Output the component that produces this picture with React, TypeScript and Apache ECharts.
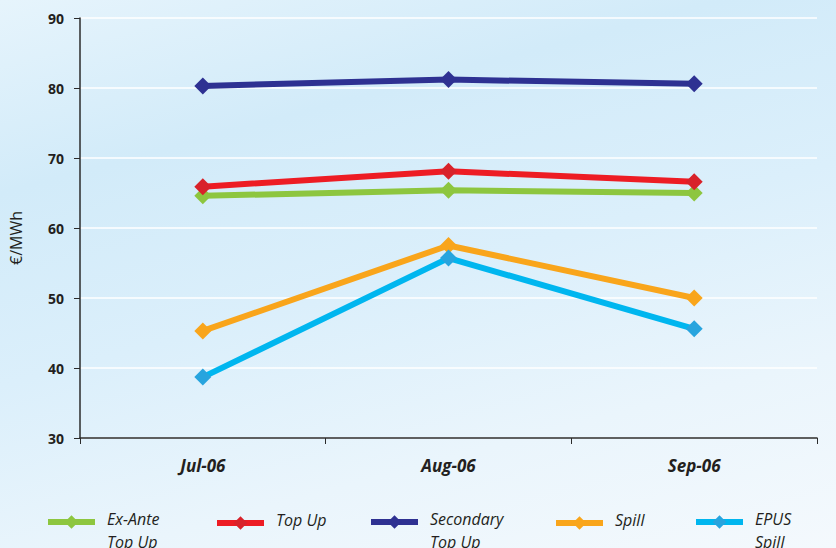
import React, { useEffect, useRef } from "react";
import * as echarts from "echarts";

// Monthly average prices, €/MWh
const months = ["Jul-06", "Aug-06", "Sep-06"];
const exAnteTopUp = [64.6, 65.4, 65.0];
const topUp = [65.9, 68.1, 66.6];
const secondaryTopUp = [80.3, 81.2, 80.6];
const spill = [45.3, 57.5, 50.0];
const epusSpill = [38.7, 55.7, 45.6];

const yTicks = [30, 40, 50, 60, 70, 80, 90];

const seriesDefs = [
  { name: "Ex-Ante Top Up", lines: ["Ex-Ante", "Top Up"], data: exAnteTopUp, color: "#8dc63f", marker: "#8dc63f", left: 45 },
  { name: "Top Up", lines: ["Top Up"], data: topUp, color: "#ed1c24", marker: "#d8222a", left: 214 },
  { name: "Secondary Top Up", lines: ["Secondary", "Top Up"], data: secondaryTopUp, color: "#2e3192", marker: "#2e3192", left: 368 },
  { name: "Spill", lines: ["Spill"], data: spill, color: "#f9a51b", marker: "#f9a51b", left: 553 },
  { name: "EPUS Spill", lines: ["EPUS", "Spill"], data: epusSpill, color: "#00b6ef", marker: "#27a4de", left: 693 },
];

const FONT = "'Open Sans', 'Noto Sans', sans-serif";
const INK = "#231f20";

export default function App() {
  const ref = useRef<HTMLDivElement>(null);

  useEffect(() => {
    if (!ref.current) return;
    const chart = echarts.init(ref.current, null, { renderer: "svg" });

    const textRich = {
      t: { fontFamily: FONT, fontStyle: "italic", fontSize: 16, color: INK, lineHeight: 23 },
      e: { fontSize: 10, lineHeight: 17 },
      f: { fontSize: 4, lineHeight: 6 },
    };

    // the first label line sits level with the legend's line-and-diamond icon
    const legends = seriesDefs.map((s) => {
      const twoLine = s.lines.length > 1;
      const text = twoLine
        ? `{e| }\n{t|${s.lines[0]}}\n{t|${s.lines[1]}}`
        : `{t|${s.lines[0]}}\n{f| }`;
      return {
        data: [s.name],
        left: s.left,
        top: twoLine ? 494 : 512,
        padding: 0,
        itemWidth: 47,
        itemHeight: 17,
        formatter: () => text,
        lineStyle: { width: 6 },
        textStyle: {
          fontFamily: FONT,
          fontStyle: "italic",
          fontSize: 16,
          color: INK,
          padding: [0, 0, 0, 7],
          rich: textRich,
        },
      };
    });

    chart.setOption({
      animation: false,
      backgroundColor: "transparent",
      grid: { left: 78, right: 19, top: 18, bottom: 110 },
      xAxis: {
        type: "category",
        data: months,
        boundaryGap: true,
        axisLine: { lineStyle: { color: "#2b2b2b", width: 1.5 } },
        axisTick: { show: true, length: 6, lineStyle: { color: "#2b2b2b" } },
        axisLabel: {
          margin: 19,
          fontFamily: FONT,
          fontWeight: "bold",
          fontStyle: "italic",
          fontSize: 17,
          color: INK,
        },
        splitLine: { show: false },
      },
      yAxis: {
        type: "value",
        min: yTicks[0],
        max: yTicks[yTicks.length - 1],
        interval: 10,
        name: "€/MWh",
        nameLocation: "middle",
        nameGap: 56,
        nameTextStyle: { fontFamily: FONT, fontSize: 16, color: INK, padding: [0, 0, 0, -20] },
        axisLine: { show: true, lineStyle: { color: "#2b2b2b", width: 1.5 } },
        axisTick: { show: true, length: 6, lineStyle: { color: "#2b2b2b" } },
        axisLabel: {
          margin: 16,
          fontFamily: FONT,
          fontWeight: "bold",
          fontSize: 14,
          color: INK,
        },
        splitLine: { show: true, lineStyle: { color: "#ffffff", width: 1.5 } },
      },
      legend: legends,
      series: seriesDefs.map((s) => ({
        name: s.name,
        type: "line",
        data: s.data,
        symbol: "diamond",
        symbolSize: 17,
        lineStyle: { color: s.color, width: 6 },
        itemStyle: { color: s.marker },
        color: s.color,
      })),
    });

    return () => chart.dispose();
  }, []);

  return (
    <div
      style={{
        position: "absolute",
        left: 0,
        top: 0,
        width: 836,
        height: 548,
        background:
          "linear-gradient(165deg, #e6f4fc 0%, #d2ebf9 25%, #dbeffb 50%, #eaf5fc 75%, #f4f9fd 100%)",
      }}
    >
      <div ref={ref} style={{ width: 836, height: 548 }} />
    </div>
  );
}
